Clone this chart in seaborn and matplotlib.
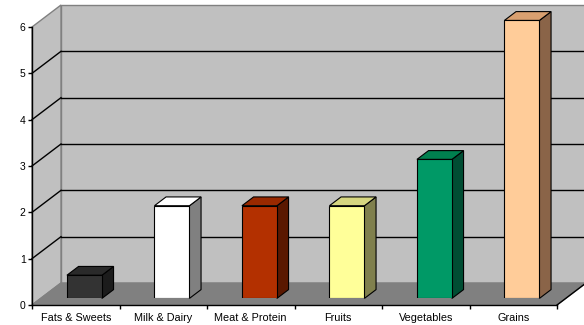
import numpy as np
import pandas as pd
import seaborn as sns
import matplotlib.pyplot as plt
from matplotlib.patches import Polygon

plt.rcParams["font.family"] = ["Liberation Sans", "DejaVu Sans"]

categories = ["Fats & Sweets", "Milk & Dairy", "Meat & Protein", "Fruits", "Vegetables", "Grains"]
servings = [0.5, 2, 2, 2, 3, 6]
front_colors = ["#333333", "#ffffff", "#b33000", "#ffff99", "#009966", "#ffcc99"]
side_colors = ["#1c1c1c", "#808080", "#5a1800", "#80804d", "#004d33", "#8a6448"]
top_colors = ["#2a2a2a", "#ffffff", "#992900", "#d6d680", "#00804f", "#d9a070"]
y_ticks = [0, 1, 2, 3, 4, 5, 6]

df = pd.DataFrame({"group": categories, "servings": servings})

W, H = 584, 325
fig = plt.figure(figsize=(W / 100, H / 100), dpi=100)
fig.patch.set_facecolor("white")

# front plane of the 3d box, pixels
left, bottom, pw, ph = 32, 20, 525, 278
ax = fig.add_axes([left / W, bottom / H, pw / W, ph / H])
ax.set_facecolor("none")
ax.set_xlim(-0.5, 5.5)
ax.set_ylim(0, 6)

# depth of the box in data units
Dx = 29 / (pw / 6)
Dy = 22 / (ph / 6)
x0, x1 = -0.5, 5.5

back = Polygon([(x0 + Dx, Dy), (x1 + Dx, Dy), (x1 + Dx, 6 + Dy), (x0 + Dx, 6 + Dy)],
               closed=True, fc="#c0c0c0", ec="#808080", lw=1, clip_on=False, zorder=0)
side = Polygon([(x0, 0), (x0, 6), (x0 + Dx, 6 + Dy), (x0 + Dx, Dy)],
               closed=True, fc="#c0c0c0", ec="#808080", lw=1, clip_on=False, zorder=0)
floor = Polygon([(x0, 0), (x1, 0), (x1 + Dx, Dy), (x0 + Dx, Dy)],
                closed=True, fc="#808080", ec="#808080", lw=1, clip_on=False, zorder=1)
for p in (back, side, floor):
    ax.add_patch(p)
ax.plot([x1, x1 + Dx], [0, Dy], color="black", lw=1, clip_on=False, zorder=2)

for yv in y_ticks[1:-1]:
    ax.plot([x0 + Dx, x1 + Dx], [yv + Dy, yv + Dy], color="black", lw=1, clip_on=False, zorder=0.5)
    ax.plot([x0, x0 + Dx], [yv, yv + Dy], color="black", lw=1, clip_on=False, zorder=0.5)

for s in ["top", "right"]:
    ax.spines[s].set_visible(False)
for s in ["left", "bottom"]:
    ax.spines[s].set_color("black")
    ax.spines[s].set_linewidth(1)
    ax.spines[s].set_zorder(3)

ax.set_yticks(y_ticks)
ax.tick_params(axis="y", direction="out", length=3, width=1, color="black",
               labelsize=7.5, pad=1.5)
ax.set_xticks(np.arange(-0.5, 6, 1))
ax.set_xticklabels([])
ax.set_xticks(range(len(categories)), minor=True)
ax.set_xticklabels(categories, minor=True)
ax.tick_params(axis="x", which="major", direction="out", length=3, width=1, color="black")
ax.tick_params(axis="x", which="minor", length=0, labelsize=7.8, pad=6)

# bars sit 30% into the depth of the box
bf = 0.3
ax2 = fig.add_axes([(left + bf * 29) / W, (bottom + bf * 22) / H, pw / W, ph / H])
ax2.set_facecolor("none")
sns.barplot(data=df, x="group", y="servings", hue="group", palette=front_colors,
            width=0.4, edgecolor="black", linewidth=0.8, legend=False, ax=ax2,
            saturation=1, zorder=5)
ax2.set_xlim(-0.5, 5.5)
ax2.set_ylim(0, 6)
ax2.axis("off")

dx, dy = 0.4 * Dx, 0.4 * Dy
bars = sorted(ax2.patches, key=lambda p: p.get_x())
for i, p in enumerate(bars):
    x, w, h = p.get_x(), p.get_width(), p.get_height()
    ax2.add_patch(Polygon([(x + w, 0), (x + w, h), (x + w + dx, h + dy), (x + w + dx, dy)],
                          closed=True, fc=side_colors[i], ec="black", lw=0.8,
                          clip_on=False, zorder=4))
    ax2.add_patch(Polygon([(x, h), (x + w, h), (x + w + dx, h + dy), (x + dx, h + dy)],
                          closed=True, fc=top_colors[i], ec="black", lw=0.8,
                          clip_on=False, zorder=4))

fig.savefig("out.png", dpi=100)
